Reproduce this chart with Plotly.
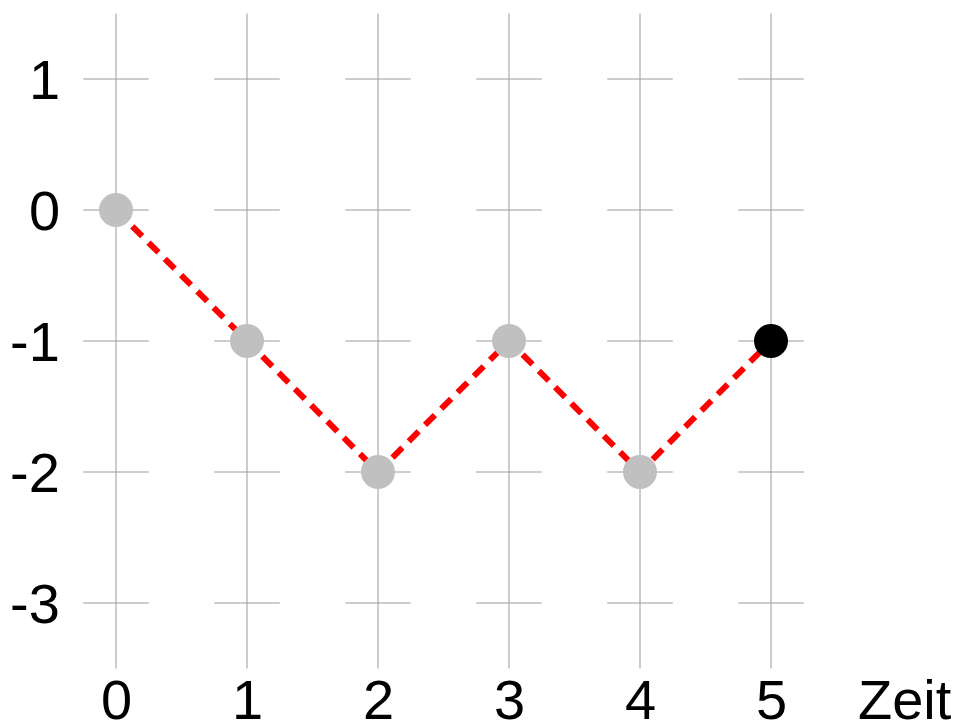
import plotly.graph_objects as go

# data
zeit = [0, 1, 2, 3, 4, 5]
werte = [0, -1, -2, -1, -2, -1]
x_ticks = [0, 1, 2, 3, 4, 5]
y_ticks = [1, 0, -1, -2, -3]
x_label = "Zeit"

grid_color = "#9a9a9a"
font = dict(family="Liberation Sans, Arial, sans-serif", size=56, color="black")

W, H = 952, 720
OFF = 8  # page body margin
PX = 131.0
X0, Y0 = 116 - OFF, 210 - OFF

fig = go.Figure()

vx, vy = [], []
for x in x_ticks:
    vx += [x, x, None]
    vy += [min(y_ticks) - 0.5, max(y_ticks) + 0.5, None]
fig.add_trace(go.Scatter(x=vx, y=vy, mode="lines", line=dict(color=grid_color, width=1),
                         hoverinfo="skip", showlegend=False))
hx, hy = [], []
for x in x_ticks:
    for y in y_ticks:
        hx += [x - 0.25, x + 0.25, None]
        hy += [y, y, None]
fig.add_trace(go.Scatter(x=hx, y=hy, mode="lines", line=dict(color=grid_color, width=1),
                         hoverinfo="skip", showlegend=False))

fig.add_trace(go.Scatter(x=zeit, y=werte, mode="lines",
                         line=dict(color="#ff0000", width=6, dash="14px,9px"),
                         showlegend=False))
colors = ["#c0c0c0"] * (len(zeit) - 1) + ["#000000"]
fig.add_trace(go.Scatter(x=zeit, y=werte, mode="markers",
                         marker=dict(size=34, color=colors, line=dict(width=0)),
                         showlegend=False))

annotations = []
for y in y_ticks:
    annotations.append(dict(x=-0.41, y=y, xref="x", yref="y", text=str(y), showarrow=False,
                            xanchor="right", yanchor="middle", font=font))
for x in x_ticks:
    annotations.append(dict(x=x, y=-3.74, xref="x", yref="y", text=str(x), showarrow=False,
                            xanchor="center", yanchor="middle", font=font))
annotations.append(dict(x=6.02, y=-3.74, xref="x", yref="y", text=x_label, showarrow=False,
                        xanchor="center", yanchor="middle", font=font))

fig.update_layout(
    width=W, height=H,
    margin=dict(l=0, r=0, t=0, b=0),
    paper_bgcolor="white", plot_bgcolor="white",
    xaxis=dict(range=[-X0 / PX, (W - X0) / PX], visible=False, fixedrange=True),
    yaxis=dict(range=[-(H - Y0) / PX, Y0 / PX], visible=False, fixedrange=True),
    annotations=annotations,
    showlegend=False,
)

fig.write_html("out.html")
